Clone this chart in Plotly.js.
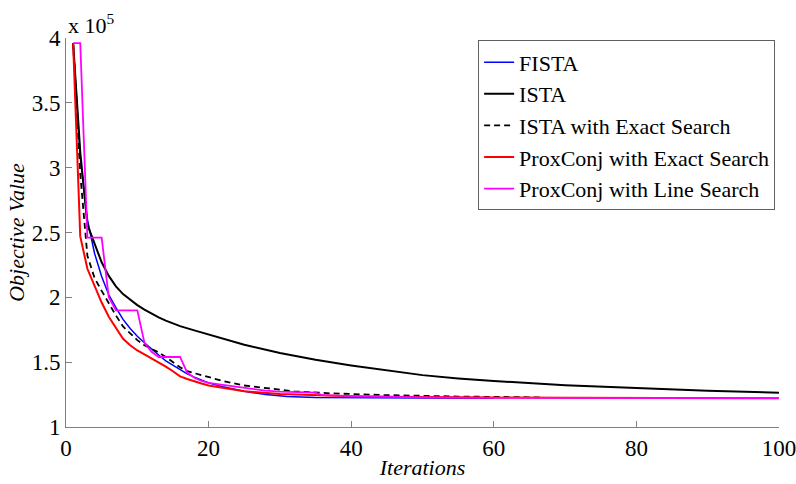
<!DOCTYPE html>
<html>
<head>
<meta charset="utf-8">
<script src="https://cdn.plot.ly/plotly-3.0.1.min.js"></script>
<style>
html,body{margin:0;padding:0;background:#fff}
#chart{width:796px;height:484px}
#chart svg text{font-family:"Liberation Serif","Times New Roman","DejaVu Serif",serif !important;}
</style>
</head>
<body>
<div id="chart"></div>
<script>
// Objective values are in units of 1e5
const fistaIter = [1,2,3,4,5,6,7,8,9,10,11,12,13,14,15,16,17,18,19,20,22,25,28,31,35,40,50,60];
const fistaVal  = [3.96,3.08,2.60,2.34,2.16,2.02,1.92,1.83,1.76,1.70,1.65,1.60,1.555,1.51,1.475,1.44,1.41,1.385,1.36,1.34,1.31,1.275,1.25,1.235,1.228,1.225,1.223,1.222];

const istaIter = [1,2,3,4,5,6,7,8,9,10,11,12,13,14,15,16,18,20,22,25,30,35,40,45,50,55,60,70,80,90,100];
const istaVal  = [3.96,3.12,2.56,2.41,2.27,2.165,2.085,2.025,1.98,1.94,1.905,1.873,1.845,1.82,1.798,1.778,1.745,1.715,1.68,1.635,1.57,1.518,1.475,1.435,1.40,1.375,1.355,1.322,1.30,1.28,1.265];

const istaExIter = [1,2,3,4,5,6,7,8,9,10,11,12,13,14,15,16,17,18,19,20,22,25,28,32,37,44,55,67];
const istaExVal  = [3.96,2.95,2.32,2.15,2.05,1.95,1.86,1.775,1.72,1.67,1.63,1.605,1.575,1.54,1.50,1.46,1.43,1.415,1.40,1.385,1.355,1.32,1.30,1.275,1.26,1.247,1.235,1.228];

const pcExIter = [1,2,3,4,5,6,7,8,9,10,11,12,13,14,15,16,17,18,19,20,22,25,30,35,40,45,50,60,70,100];
const pcExVal  = [3.96,2.47,2.22,2.09,1.96,1.85,1.76,1.68,1.63,1.59,1.56,1.53,1.50,1.465,1.43,1.39,1.37,1.35,1.335,1.32,1.30,1.275,1.255,1.245,1.238,1.233,1.23,1.227,1.225,1.222];

const pcLsIter = [1,2,3,4,5,6,7,8,9,10,11,12,13,14,15,16,17,18,19,20,22,25,28,30,35,36,40,50,60,100];
const pcLsVal  = [3.96,3.96,2.46,2.46,2.46,2.00,1.90,1.90,1.90,1.90,1.65,1.58,1.54,1.54,1.54,1.54,1.42,1.38,1.355,1.34,1.325,1.30,1.28,1.273,1.265,1.245,1.238,1.228,1.225,1.222];

const seriesNames = ['FISTA','ISTA','ISTA with Exact Search','ProxConj with Exact Search','ProxConj with Line Search'];
const yTickVals = [1,1.5,2,2.5,3,3.5,4];
const yTickText = ['1','1.5','2','2.5','3','3.5','4'];
const xTickVals = [0,20,40,60,80,100];
const xTickText = ['0','20','40','60','80','100'];

const serif = 'Liberation Serif';

function tr(x, y, name, color, width, dash, g) {
  return {x: x, y: y, name: name, type: 'scatter', mode: 'lines',
    line: {color: color, width: width, dash: dash || 'solid'}, legendgroup: g};
}

const data = [
  tr(fistaIter, fistaVal, seriesNames[0], '#0000ff', 1.5, null, 'a'),
  tr(istaIter, istaVal, seriesNames[1], '#000000', 2, null, 'b'),
  tr(istaExIter, istaExVal, seriesNames[2], '#000000', 1.8, '6px,4px', 'c'),
  tr(pcExIter, pcExVal, seriesNames[3], '#ff0000', 2, null, 'd'),
  tr(pcLsIter, pcLsVal, seriesNames[4], '#ff00ff', 1.8, null, 'e')
];

const axisCommon = {
  showgrid: false, zeroline: false, showline: true, linecolor: '#808080', linewidth: 1,
  ticks: 'inside', ticklen: 6, tickcolor: '#808080', tickwidth: 1, ticklabeloverflow: 'allow',
  tickfont: {family: serif, size: 23, color: '#000'}, mirror: false
};

const layout = {
  width: 796, height: 484,
  font: {family: serif, color: '#000'},
  margin: {l: 66, r: 17, t: 38, b: 57},
  paper_bgcolor: '#fff', plot_bgcolor: '#fff',
  showlegend: true,
  legend: {x: 0.578, y: 0.994, xanchor: 'left', yanchor: 'top',
    bordercolor: '#606060', borderwidth: 1, bgcolor: '#fff',
    font: {family: serif, size: 22, color: '#000'}, tracegroupgap: 0},
  xaxis: Object.assign({}, axisCommon, {range: [0, 100], tickvals: xTickVals, ticktext: xTickText,
    title: {text: '<i>Iterations</i>', font: {family: serif, size: 22, color: '#000'}, standoff: 0}}),
  yaxis: Object.assign({}, axisCommon, {range: [1, 4], tickvals: yTickVals, ticktext: yTickText,
    title: {text: '<i>Objective Value</i>', font: {family: serif, size: 22, color: '#000'}, standoff: 0}}),
  annotations: [{xref: 'paper', yref: 'paper', x: 0, y: 1, xanchor: 'left', yanchor: 'bottom',
    text: 'x 10<sup>5</sup>', showarrow: false, font: {family: serif, size: 22, color: '#000'}, yshift: -2}]
};

Plotly.newPlot('chart', data, layout, {displayModeBar: false, staticPlot: true});
</script>
</body>
</html>
